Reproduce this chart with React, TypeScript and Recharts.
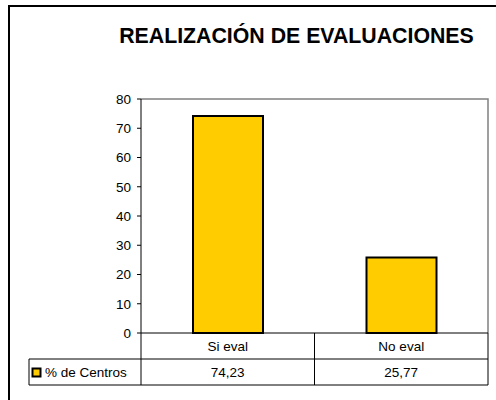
import React from "react";
import { BarChart, Bar, XAxis, YAxis, Customized } from "recharts";

const categories = ["Si eval", "No eval"];
const values = [74.23, 25.77];
const yTicks = [0, 10, 20, 30, 40, 50, 60, 70, 80];
const seriesName = "% de Centros";
const title = "REALIZACIÓN DE EVALUACIONES";

const data = categories.map((c, i) => ({ name: c, value: values[i] }));

const FONT = "'Liberation Sans', Arial, sans-serif";
const W = 496;
const H = 400;
const PL = 141;
const PR = 488;
const PT = 99;
const PB = 333;
const ROW1 = 359;
const ROW2 = 385;
const TABLE_L = 29;

const fmt = (v: number) => v.toFixed(2).replace(".", ",");

const CatTick = (props: any) => {
  const { x, payload } = props;
  const idx = payload.index;
  return (
    <g>
      <text x={x} y={351} textAnchor="middle" fontSize={13.5} fontFamily={FONT} fill="#000">
        {payload.value}
      </text>
      <text x={x} y={377} textAnchor="middle" fontSize={13.5} fontFamily={FONT} fill="#000">
        {fmt(values[idx])}
      </text>
    </g>
  );
};

const Decor = () => {
  const colW = (PR - PL) / categories.length;
  const dividers = categories.map((_, i) => PL + colW * (i + 1));
  return (
    <g>
      <path d={`M9,${H} L9,6 L${W},6`} fill="none" stroke="#000" strokeWidth={2} />
      <text x={296.5} y={43} textAnchor="middle" fontSize={21.3} fontWeight="bold" fontFamily={FONT} fill="#000">
        {title}
      </text>
      <path d={`M${PL},${PT} L${PR},${PT} L${PR},${PB}`} fill="none" stroke="#808080" strokeWidth={1.5} />
      <line x1={TABLE_L} y1={ROW1} x2={PR} y2={ROW1} stroke="#000" strokeWidth={1} />
      <line x1={TABLE_L} y1={ROW2} x2={PR} y2={ROW2} stroke="#000" strokeWidth={1} />
      <line x1={TABLE_L} y1={ROW1} x2={TABLE_L} y2={ROW2} stroke="#000" strokeWidth={1} />
      <line x1={PL} y1={PB} x2={PL} y2={ROW2} stroke="#000" strokeWidth={1} />
      {dividers.map((dx, i) => (
        <line key={i} x1={dx} y1={PB} x2={dx} y2={ROW2} stroke="#000" strokeWidth={1} />
      ))}
      <rect x={32.5} y={368.5} width={8} height={8} fill="#FFCC00" stroke="#000" strokeWidth={2} />
      <text x={45} y={377} fontSize={13.5} fontFamily={FONT} fill="#000">
        {seriesName}
      </text>
    </g>
  );
};

export default function App() {
  return (
    <div style={{ position: "absolute", left: 0, top: 0, width: W, height: H, background: "#fff" }}>
      <BarChart
        width={W}
        height={H}
        data={data}
        margin={{ top: PT, right: W - PR, bottom: H - PB - 52, left: PL - 40 }}
      >
        <XAxis
          dataKey="name"
          height={52}
          axisLine={{ stroke: "#000", strokeWidth: 1 }}
          tickLine={false}
          tick={<CatTick />}
          interval={0}
        />
        <YAxis
          width={40}
          domain={[0, 80]}
          ticks={yTicks}
          interval={0}
          axisLine={{ stroke: "#000", strokeWidth: 1 }}
          tickLine={{ stroke: "#000" }}
          tickSize={4}
          tickMargin={6}
          tick={{ fontSize: 13.5, fontFamily: FONT, fill: "#000" }}
        />
        <Bar dataKey="value" fill="#FFCC00" stroke="#000" strokeWidth={2} barSize={70} isAnimationActive={false} />
        <Customized component={Decor} />
      </BarChart>
    </div>
  );
}
